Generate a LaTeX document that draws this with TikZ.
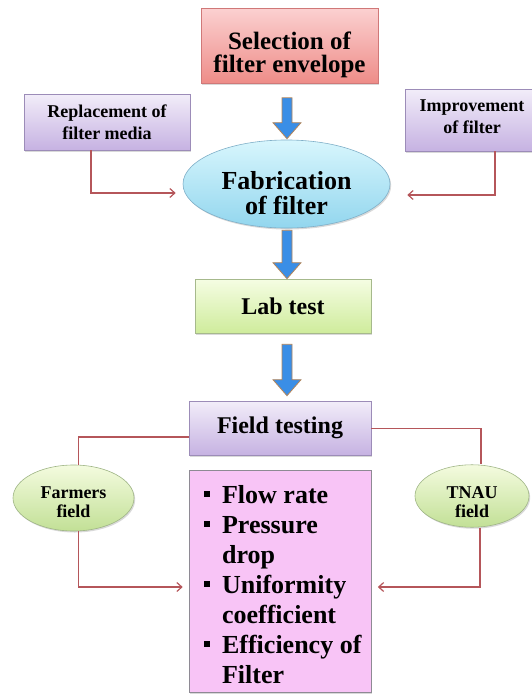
\documentclass[tikz,border=0pt]{standalone}
\usepackage{fontspec}
\setmainfont{Liberation Serif}
\usetikzlibrary{calc,arrows.meta,positioning,shapes.geometric,shadows}

\definecolor{linkred}{HTML}{B5565A}
\definecolor{flowblue}{HTML}{3A8EE6}
\definecolor{flowedge}{HTML}{B48458}
\definecolor{meastop}{HTML}{F8C4F6}
\definecolor{measbot}{HTML}{F8C4F6}
\definecolor{measedge}{HTML}{8E8A94}
\definecolor{seltop}{HTML}{FBD0D0}
\definecolor{selbot}{HTML}{EE8C88}
\definecolor{seledge}{HTML}{D07878}
\definecolor{lavtop}{HTML}{F2EDF9}
\definecolor{lavbot}{HTML}{C6B2E2}
\definecolor{lavedge}{HTML}{9C8CB8}
\definecolor{cyantop}{HTML}{D8F6FD}
\definecolor{cyanbot}{HTML}{92D6EE}
\definecolor{cyanedge}{HTML}{7FAFC8}
\definecolor{greentop}{HTML}{F5FDE3}
\definecolor{greenbot}{HTML}{CFEC9C}
\definecolor{greenedge}{HTML}{A6B98C}
\definecolor{ovaltop}{HTML}{F4FBDF}
\definecolor{ovalbot}{HTML}{C2E096}
\definecolor{ovaledge}{HTML}{9FB586}

\newcommand{\sqbullet}{\rule[6pt]{6.5pt}{6.5pt}}
\newcommand{\sz}[2]{\fontsize{#1}{#2}\selectfont}
\newcommand{\up}[1]{\rule{0pt}{#1}}           % taller first line
\newcommand{\down}[1]{\rule[-#1]{0pt}{#1}}    % deeper last line

% fat blue arrow from one node down to the next
\newcommand{\flowarrow}[4]{%
  \draw[flow] ($(axis |- #1.south)+(-5,#3)$)
    -- ($(axis |- #2.north)+(-5,-16-#4)$) -- ++(-9,0)
    -- ($(axis |- #2.north)+(0,-#4)$)
    -- ($(axis |- #2.north)+(14,-16-#4)$) -- ++(-9,0)
    -- ($(axis |- #1.south)+(5,#3)$) -- cycle;}

\begin{document}
\begin{tikzpicture}[
    x=1pt, y=-1pt,
    >={Straight Barb[length=5pt,width=9pt]},
    shadowed/.style={drop shadow={shadow xshift=1.2pt, shadow yshift=-1.5pt, opacity=0.3}},
    stepbox/.style={rectangle, draw=#1edge, top color=#1top, bottom color=#1bot,
      line width=0.6pt, shadowed, align=center, inner sep=0pt},
    oval/.style={ellipse, draw=#1edge, top color=#1top, bottom color=#1bot,
      line width=0.6pt, shadowed, align=center, inner sep=0pt},
    link/.style={draw=linkred, line width=1.2pt},
    flow/.style={fill=flowblue, draw=flowedge, line width=0.8pt},
  ]
  \useasboundingbox (0,0) rectangle (532,694);
  \coordinate (axis) at (287,0);

  % main column
  \node[stepbox=sel, minimum width=177pt, minimum height=75pt,
    font=\bfseries\sz{25}{23}] (sel) at (289.5,46) {\up{36pt}Selection of\\filter envelope};
  \node[oval=cyan, minimum width=207pt, minimum height=80pt,
    font=\bfseries\sz{26}{25}] (fab) at (286.5,184) {\up{37pt}Fabrication\\of filter};
  \node[stepbox=green, minimum width=176pt, minimum height=54pt,
    font=\bfseries\sz{24}{26}] (lab) at (283,306) {Lab test};
  \node[stepbox=lav, minimum width=182pt, minimum height=54pt,
    font=\bfseries\sz{24}{26}] (field) at (280,428) {Field testing};
  \node[stepbox=meas, minimum width=182pt, minimum height=222pt, font=\bfseries\sz{26}{30},
    text height=27pt, text depth=183pt] (meas) at (280,581) {%
    \begin{tabular}[t]{@{\hspace{5pt}}l@{\hspace{12pt}}l@{}}
      \sqbullet & Flow rate\\
      \sqbullet & Pressure\\
                & drop\\
      \sqbullet & Uniformity\\
                & coefficient\\
      \sqbullet & Efficiency of\\
                & Filter
    \end{tabular}};

  % side boxes
  \node[stepbox=lav, minimum width=166pt, minimum height=56pt,
    font=\bfseries\sz{18}{22}] (repl) at (107,122) {Replacement of\\filter media};
  \node[stepbox=lav, minimum width=134pt, minimum height=62pt,
    font=\bfseries\sz{18}{22}] (impr) at (472,120) {Improvement\\of filter\down{6pt}};
  \node[oval=oval, minimum width=121pt, minimum height=66pt,
    font=\bfseries\sz{18}{19}] (farm) at (73.5,498) {\up{21pt}Farmers\\field};
  \node[oval=oval, minimum width=114pt, minimum height=61pt,
    font=\bfseries\sz{18}{19}] (tnau) at (472,496) {\up{25pt}TNAU\\field};

  % blue flow arrows
  \flowarrow{sel}{fab}{14}{1}
  \flowarrow{fab}{lab}{2}{0}
  \flowarrow{lab}{field}{11}{5}

  % red links
  \draw[link,->] ([xshift=-16pt]repl.south) |- ($(fab.west)+(-7,9)$);
  \draw[link,->] ([xshift=23pt]impr.south) |- ($(fab.east)+(17,11)$);
  \draw[link] ($(field.west)+(0,9)$) -| ([xshift=5pt]farm.north);
  \draw[link] ($(field.east)+(0,0.5)$) -| ([xshift=9pt]tnau.north);
  \draw[link,->] ([xshift=5pt]farm.south) |- ($(meas.west)+(-6,6)$);
  \draw[link,->] ([xshift=8pt]tnau.south) |- ($(meas.east)+(6.5,6)$);
\end{tikzpicture}
\end{document}
